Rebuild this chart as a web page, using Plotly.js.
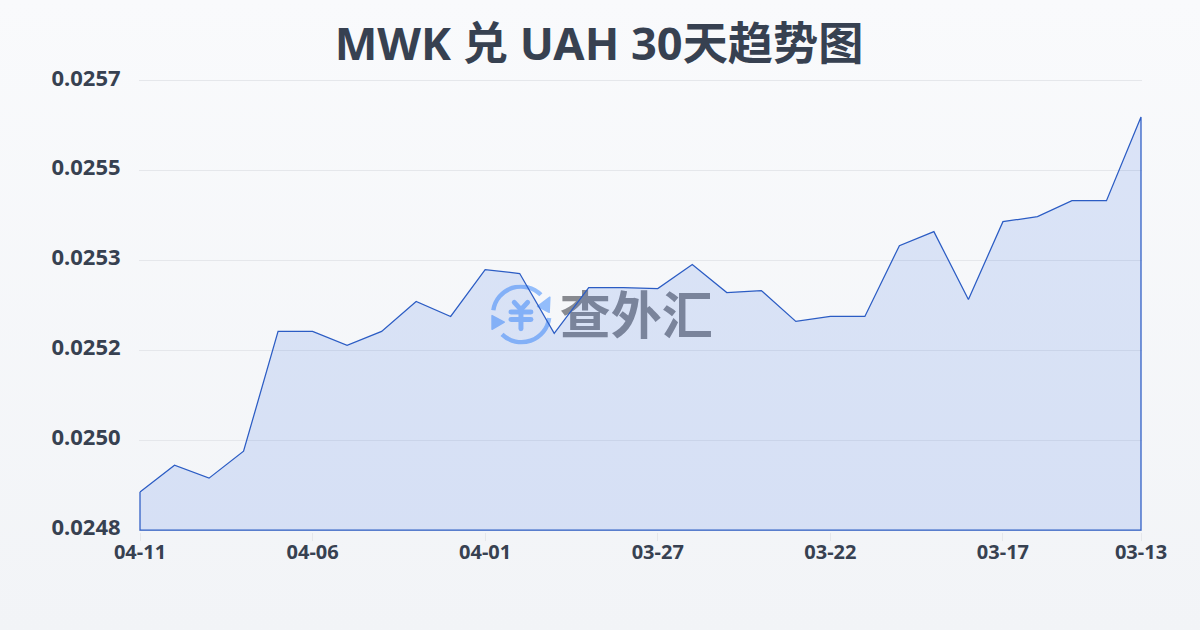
<!DOCTYPE html>
<html>
<head>
<meta charset="utf-8">
<script src="https://cdn.plot.ly/plotly-3.0.1.min.js"></script>
<style>
html,body{margin:0;padding:0;width:1200px;height:630px;overflow:hidden;background:linear-gradient(180deg,#f9fafc 0%,#f2f4f7 100%);}
#chart{width:1200px;height:630px;}
</style>
</head>
<body>
<div id="chart"></div>
<script>
const dates = ["04-11","04-10","04-09","04-08","04-07","04-06","04-05","04-04","04-03","04-02","04-01","03-31","03-30","03-29","03-28","03-27","03-26","03-25","03-24","03-23","03-22","03-21","03-20","03-19","03-18","03-17","03-16","03-15","03-14","03-13"];
const rates = [0.024876,0.02493,0.024904,0.024958,0.025198,0.025198,0.02517,0.025198,0.025258,0.025228,0.025322,0.025314,0.025194,0.025286,0.025286,0.025284,0.025332,0.025276,0.02528,0.025218,0.025228,0.025228,0.02537,0.025398,0.025262,0.025418,0.025428,0.02546,0.02546,0.025628];
const baseRate = 0.0248;
const axisBottom = 0.024796;
const axisTop = 0.02572;
const yTickVals = [0.0248,0.02498,0.02516,0.02534,0.02552,0.0257];
const yTickText = ["0.0248","0.0250","0.0252","0.0253","0.0255","0.0257"];
const xTickVals = ["04-11","04-06","04-01","03-27","03-22","03-17","03-13"];
const titleText = "MWK 兑 UAH 30天趋势图";
const watermarkText = "查外汇";

const font = '"Noto Sans","Noto Sans CJK SC",sans-serif';
const ink = "#374151";

const logo = `<svg xmlns="http://www.w3.org/2000/svg" width="64" height="64" viewBox="0 0 64 64">
<g fill="none" stroke="#93bdfb" stroke-width="4.4">
<path d="M3.3 25.9 A 28 28 0 0 1 51 10.25"/>
<path d="M59.3 33.6 A 28 28 0 0 1 12 50.25"/>
</g>
<path d="M60 12.6 L59.3 28 L47.7 21.9 Z" fill="#93bdfb" stroke="#93bdfb" stroke-width="1.5" stroke-linejoin="round"/>
<path d="M2 31.2 L2 45.2 L14.3 37.9 Z" fill="#93bdfb" stroke="#93bdfb" stroke-width="1.5" stroke-linejoin="round"/>
<g fill="none" stroke="#93bdfb" stroke-width="5" stroke-linecap="round">
<path d="M24.3 17.9 L31 25.2 L37.7 17.9"/><path d="M21 27.6 H41"/><path d="M21 35.2 H41"/><path d="M31 25.2 V44.6"/>
</g></svg>`;

const trace = {
  type: "scatter",
  mode: "lines",
  x: dates.concat([dates[dates.length-1], dates[0], dates[0]]),
  y: rates.concat([baseRate, baseRate, rates[0]]),
  fill: "toself",
  fillcolor: "rgba(38,97,228,0.137)",
  line: {color: "#2b5cc4", width: 1.25},
  hoverinfo: "skip"
};

const layout = {
  width: 1200, height: 630,
  margin: {l:139, r:58, t:70.5, b:97.5},
  paper_bgcolor: "rgba(0,0,0,0)",
  plot_bgcolor: "rgba(0,0,0,0)",
  showlegend: false,
  title: {
    text: "<b>"+titleText+"</b>",
    font: {family: font, size: 45.2, color: ink},
    x: 0.4992, xref: "container", xanchor: "center",
    y: 0.93, yref: "container", yanchor: "middle"
  },
  xaxis: {
    type: "category",
    range: [-0.029, 29.029],
    tickmode: "array",
    tickvals: xTickVals,
    ticktext: xTickVals,
    ticks: "outside", ticklen: 8, tickwidth: 1, tickcolor: "#e5e7eb",
    ticklabelstandoff: -6,
    showgrid: false, zeroline: false, showline: false,
    tickangle: 0,
    tickfont: {family: font, size: 20, color: ink, weight: 700}
  },
  yaxis: {
    range: [axisBottom, axisTop],
    tickmode: "array",
    tickvals: yTickVals,
    ticktext: yTickText,
    ticks: "outside", ticklen: 13, tickcolor: "rgba(0,0,0,0)",
    ticklabelshift: -3,
    showgrid: true, gridcolor: "#e5e7eb", gridwidth: 1,
    zeroline: false, showline: false,
    tickfont: {family: font, size: 22, color: ink, weight: 700}
  },
  images: [{
    source: "data:image/svg+xml;utf8," + encodeURIComponent(logo),
    xref: "paper", yref: "paper",
    x: 0.35, y: 0.5364,
    sizex: 0.0636, sizey: 0.1371,
    sizing: "stretch", xanchor: "left", yanchor: "top", layer: "below"
  }],
  shapes: [{
    type: "rect", layer: "below",
    xref: "paper", yref: "paper",
    x0: 0.4145, x1: 0.577, y0: 0.4035, y1: 0.5148,
    line: {width: 0}, fillcolor: "rgba(0,0,0,0)",
    label: {
      text: "<b>"+watermarkText+"</b>",
      textposition: "middle center",
      font: {family: '"Noto Sans CJK SC",sans-serif', size: 51, color: "#888a90"}
    }
  }]
};

Plotly.newPlot("chart", [trace], layout, {displayModeBar:false, staticPlot:true});
</script>
</body>
</html>
